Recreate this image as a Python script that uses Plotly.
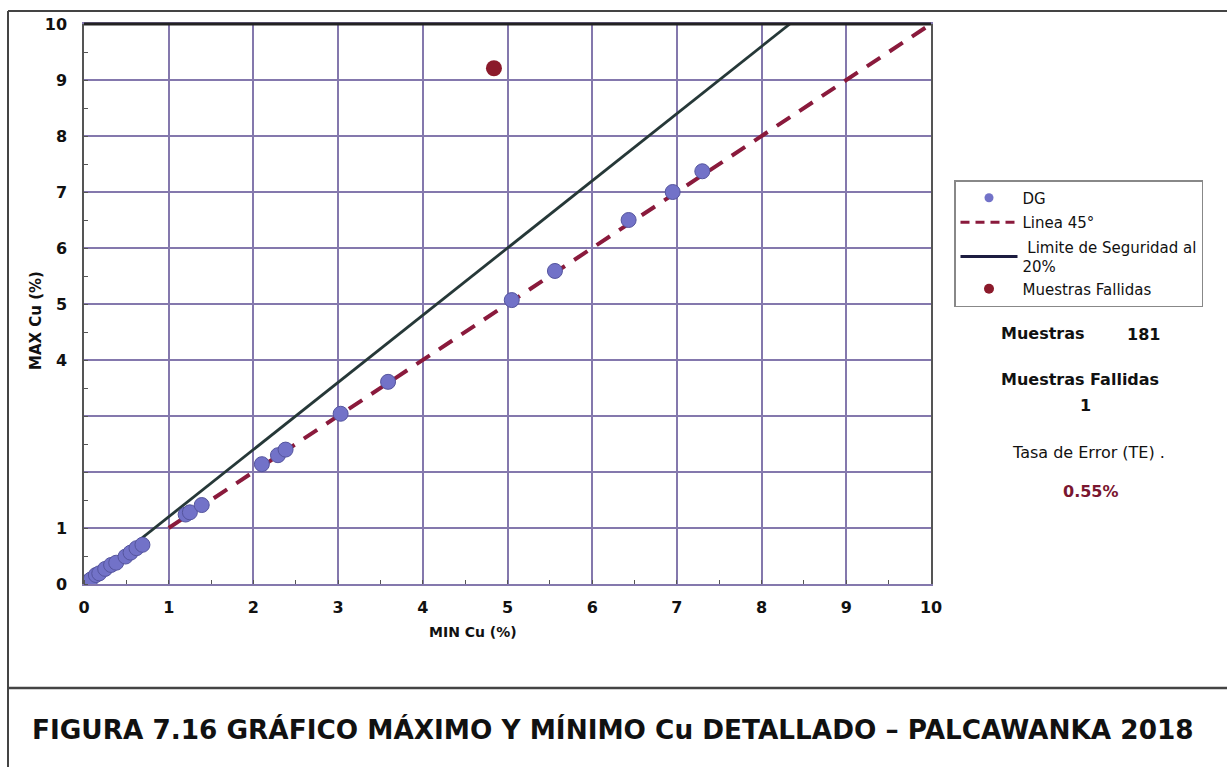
import plotly.graph_objects as go

# Duplicate Cu assays: minimum vs maximum value per pair (%)
dg_min = [0.00, 0.03, 0.08, 0.14, 0.18, 0.25, 0.32, 0.38, 0.49, 0.55, 0.62, 0.69,
          1.20, 1.25, 1.39, 2.10, 2.29, 2.38, 3.03, 3.59, 5.05, 5.56, 6.43, 6.95, 7.30]
dg_max = [0.00, 0.03, 0.08, 0.16, 0.19, 0.27, 0.34, 0.38, 0.49, 0.56, 0.64, 0.70,
          1.24, 1.28, 1.41, 2.14, 2.30, 2.40, 3.04, 3.61, 5.07, 5.59, 6.50, 7.00, 7.37]
fail_min = [4.84]
fail_max = [9.21]

line45_x = [1, 10]
limit_factor = 1.2
limit_x = [0, 10 / limit_factor]

y_ticks = [0, 1, 2, 3, 4, 5, 6, 7, 8, 9, 10]
y_tick_text = ["0", "1", "", "", "4", "5", "6", "7", "8", "9", "10"]
x_ticks = list(range(0, 11))

n_samples = 181
n_failed = 1
error_rate = "0.55%"

W, H = 1227, 767
L, R, T, B = 84, 931, 24, 584  # plot area in pixels


def px(x):
    return (x - L) / (R - L)


def py(y):
    return (B - y) / (B - T)


GRID = "#8478ad"
FONT = "DejaVu Sans, Arial, sans-serif"
DG_COLOR = "#7272c8"
FAIL_COLOR = "#8b1a2b"
L45_COLOR = "#8a1a3c"
LIM_COLOR = "#263838"

fig = go.Figure()

# plotted series (legend drawn from the small-symbol entries below)
fig.add_trace(go.Scatter(
    x=line45_x, y=line45_x, mode="lines", showlegend=False,
    line=dict(color=L45_COLOR, width=4, dash="16px,11px"),
))
fig.add_trace(go.Scatter(
    x=limit_x, y=[v * limit_factor for v in limit_x], mode="lines", showlegend=False,
    line=dict(color=LIM_COLOR, width=2.8),
))
fig.add_trace(go.Scatter(
    x=dg_min, y=dg_max, mode="markers", showlegend=False,
    marker=dict(size=15, color=DG_COLOR, line=dict(color="#55559e", width=1)),
))
fig.add_trace(go.Scatter(
    x=fail_min, y=fail_max, mode="markers", showlegend=False,
    marker=dict(size=16, color=FAIL_COLOR),
))

# legend entries
fig.add_trace(go.Scatter(x=[None], y=[None], mode="markers", name="DG", legendgroup="a",
                         marker=dict(size=9, color=DG_COLOR)))
fig.add_trace(go.Scatter(x=[None], y=[None], mode="lines", name="Linea 45°", legendgroup="b",
                         line=dict(color=L45_COLOR, width=3, dash="9px,6px")))
fig.add_trace(go.Scatter(x=[None], y=[None], mode="lines", legendgroup="c",
                         name=" Limite de Seguridad al<br>20%",
                         line=dict(color="#1c1c40", width=3)))
fig.add_trace(go.Scatter(x=[None], y=[None], mode="markers", name="Muestras Fallidas",
                         legendgroup="c", marker=dict(size=10, color=FAIL_COLOR)))

axis_common = dict(
    range=[0, 10], showgrid=True, gridcolor=GRID, gridwidth=1.5,
    zeroline=False, showline=True, mirror=True,
    tickfont=dict(family=FONT, size=16, color="#111111", weight="bold"),
    ticks="", fixedrange=True,
)
fig.update_xaxes(**axis_common, tickvals=x_ticks, linecolor=GRID, linewidth=1.5,
                 minor=dict(dtick=0.5, ticks="inside", ticklen=4, tickcolor="#555555",
                            showgrid=False),
                 ticklabelstandoff=8)
fig.update_yaxes(**axis_common, tickvals=y_ticks, ticktext=y_tick_text,
                 linecolor="#555555", linewidth=1.5,
                 minor=dict(dtick=0.5, ticks="inside", ticklen=4, tickcolor="#555555",
                            showgrid=False),
                 ticklabelstandoff=12)

frame = dict(color="#444444", width=2)
shapes = [
    # heavy top edge of the plot area
    dict(type="line", xref="paper", yref="paper", x0=0, x1=1, y0=1, y1=1,
         line=dict(color="#222222", width=3)),
    # outer frame and caption separator
    dict(type="line", xref="paper", yref="paper", x0=px(8), x1=px(1227), y0=py(11), y1=py(11),
         line=frame),
    dict(type="line", xref="paper", yref="paper", x0=px(8), x1=px(8), y0=py(11), y1=py(767),
         line=frame),
    dict(type="line", xref="paper", yref="paper", x0=px(8), x1=px(1227), y0=py(688), y1=py(688),
         line=dict(color="#444444", width=2.5)),
]


def label(text, x, y, size=16, color="#111111", angle=0):
    return dict(text=text, x=px(x), y=py(y), xref="paper", yref="paper",
                xanchor="center", yanchor="middle", textangle=angle, showarrow=False,
                font=dict(family=FONT, size=size, color=color))


annotations = [
    label("<b>MAX Cu (%)</b>", 36, 321, size=15, angle=-90),
    label("<b>MIN Cu (%)</b>", 473, 632, size=14),
    label("<b>Muestras</b>", 1043, 333),
    label(f"<b>{n_samples}</b>", 1143, 334),
    label("<b>Muestras Fallidas</b>", 1080, 379),
    label(f"<b>{n_failed}</b>", 1085, 405),
    label("Tasa de Error (TE) .", 1088, 453),
    label(f"<b>{error_rate}</b>", 1091, 491, color="#7a1630"),
    label("<b>FIGURA 7.16 GRÁFICO MÁXIMO Y MÍNIMO Cu DETALLADO – PALCAWANKA 2018</b>",
          613, 729, size=26.3),
]

fig.update_layout(
    width=W, height=H,
    margin=dict(l=L, r=W - R, t=T, b=H - B),
    paper_bgcolor="white", plot_bgcolor="white",
    shapes=shapes, annotations=annotations,
    legend=dict(
        x=px(954), y=py(180), xanchor="left", yanchor="top",
        bordercolor="#888888", borderwidth=1.5, bgcolor="white",
        font=dict(family=FONT, size=15, color="#111111"),
        itemwidth=57, tracegroupgap=2,
    ),
)

fig.write_html("out.html")
